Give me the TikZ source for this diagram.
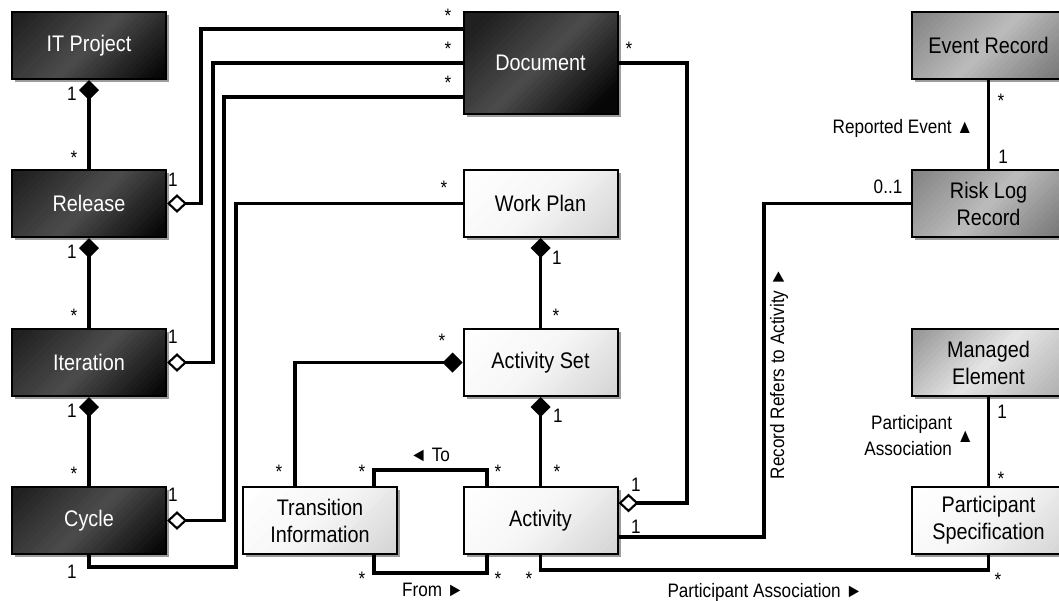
\documentclass[tikz,border=0pt]{standalone}
\usepackage{fontspec}
\setmainfont{Liberation Sans}[FakeStretch=0.88]
\usetikzlibrary{arrows.meta,shadows,calc}

\definecolor{darkA}{HTML}{202020}
\definecolor{darkB}{HTML}{4C4C4C}
\definecolor{darkC}{HTML}{060606}
\definecolor{greyA}{HTML}{868686}
\definecolor{greyB}{HTML}{BCBCBC}
\definecolor{greyC}{HTML}{787878}
\definecolor{lightA}{HTML}{9A9A9A}
\definecolor{lightB}{HTML}{E6E6E6}
\definecolor{lightC}{HTML}{B2B2B2}
\definecolor{paleA}{HTML}{FFFFFF}
\definecolor{paleB}{HTML}{F6F6F6}
\definecolor{paleC}{HTML}{D6D6D6}
\definecolor{shadowgrey}{HTML}{9C9C9C}

% diagonal three-colour gradient (top left -> middle -> bottom right),
% painted as thin slanted strips inside the box outline
\tikzset{
  grad/.style n args={3}{path picture={
    \coordinate (gO) at (path picture bounding box.center);
    \foreach \s in {-110,-105,...,105}{
      \pgfmathsetmacro\sc{\s+2.5}
      \pgfmathsetmacro\se{\s+5.5}
      \pgfmathsetmacro\pxa{\s/2-150}\pgfmathsetmacro\pya{-\s/2-150}
      \pgfmathsetmacro\pxb{\s/2+150}\pgfmathsetmacro\pyb{-\s/2+150}
      \pgfmathsetmacro\pxc{\se/2+150}\pgfmathsetmacro\pyc{-\se/2+150}
      \pgfmathsetmacro\pxd{\se/2-150}\pgfmathsetmacro\pyd{-\se/2-150}
      \pgfmathtruncatemacro\pa{max(0,min(100,(\sc+75)/75*100))}
      \pgfmathtruncatemacro\pb{max(0,min(100,\sc/75*100))}
      \ifdim\sc pt<0pt \colorlet{gc}{#2!\pa!#1}\else\colorlet{gc}{#3!\pb!#2}\fi
      \fill[gc] ($(gO)+(\pxa pt,\pya pt)$) -- ($(gO)+(\pxb pt,\pyb pt)$)
        -- ($(gO)+(\pxc pt,\pyc pt)$) -- ($(gO)+(\pxd pt,\pyd pt)$) -- cycle;
    }}}
}

\begin{document}
\begin{tikzpicture}[x=0.75pt,y=-0.75pt,
  box/.style={draw=black, line width=1.5pt,
    minimum width=154*0.75pt, minimum height=67*0.75pt,
    align=center, inner sep=2pt,
    font=\fontsize{16.9}{20.3}\selectfont,
    drop shadow={shadow xshift=2.5pt, shadow yshift=-2.5pt,
      fill=shadowgrey, opacity=1}},
  darkbox/.style={box, grad={darkA}{darkB}{darkC}, text=white},
  greybox/.style={box, grad={greyA}{greyB}{greyC}},
  lightbox/.style={box, grad={lightA}{lightB}{lightC}},
  whitebox/.style={box, grad={paleA}{paleB}{paleC}},
  conn/.style={line width=2.3pt},
  comp/.style={conn, {Diamond[length=15pt,width=15pt]}-},
  aggr/.style={conn,
    {Diamond[length=15pt,width=14pt,fill=white,line width=1.6pt]}-},
  lbl/.style={inner sep=0pt, font=\fontsize{14.6}{17.5}\selectfont},
  mult/.style={lbl}
]
\useasboundingbox (0,0) rectangle (1059,600);
\clip (0,0) rectangle (1059,600);

% ---- classes ----
\node[darkbox] (itproject) at (89,45.5) {IT Project};
\node[darkbox] (release) at (89,203.5) {Release};
\node[darkbox] (iteration) at (89,362.5) {Iteration};
\node[darkbox] (cycle) at (89,520.5) {Cycle};
\node[darkbox, minimum height=102*0.75pt] (document) at (540.5,63) {Document};
\node[whitebox] (workplan) at (540.5,203.5) {Work Plan};
\node[whitebox] (activityset) at (540.5,362.5) {Activity Set};
\node[whitebox] (activity) at (540.5,520.5) {Activity};
\node[whitebox] (transition) at (320,520.5) {Transition\\Information};
\node[greybox] (eventrec) at (988.5,45.5) {Event Record};
\node[greybox] (risklog) at (988.5,203.5) {Risk Log\\Record};
\node[lightbox] (managed) at (988.5,362.5) {Managed\\Element};
\node[whitebox] (pspec) at (988.5,520.5) {Participant\\Specification};

% ---- bend points ----
\coordinate (b1) at (201,29);
\coordinate (b2) at (213,63);
\coordinate (b3) at (224,97);
\coordinate (c5) at (236,567);
\coordinate (t1) at (295,362.5);
\coordinate (to1) at (374,470);
\coordinate (to2) at (487,470);
\coordinate (fr1) at (374,573);
\coordinate (fr2) at (487,573);
\coordinate (pa) at (0,570);
\coordinate (ad) at (687,503);
\coordinate (ar) at (764,537);

% ---- composition hierarchy ----
\draw[comp] (itproject.south) -- (release.north);
\draw[comp] (release.south) -- (iteration.north);
\draw[comp] (iteration.south) -- (cycle.north);
\draw[comp] (workplan.south) -- (activityset.north);
\draw[comp] (activityset.south) -- (activity.north);
\draw[comp] (activityset.west) -| (transition.north -| t1);

% ---- documents ----
\draw[aggr] (release.east) -| (b1) -- (document.west |- b1);
\draw[aggr] (iteration.east) -| (b2) -- (document.west |- b2);
\draw[aggr] (cycle.east) -| (b3) -- (document.west |- b3);
\draw[aggr] (activity.east |- ad) -- (ad) |- (document.east);

% ---- other associations ----
\draw[conn] (cycle.south) |- (c5) |- (workplan.west);
\draw[conn] (transition.north -| to1) -- (to1) -- (to2) -- (activity.north -| to2);
\draw[conn] (transition.south -| fr1) -- (fr1) -- (fr2) -- (activity.south -| fr2);
\draw[conn] (activity.south) |- (pspec.south |- pa) -- (pspec.south);
\draw[conn] (activity.east |- ar) -- (ar) |- (risklog.west);
\draw[conn] (eventrec.south) -- (risklog.north);
\draw[conn] (managed.south) -- (pspec.north);

% ---- multiplicities ----
\node[mult] (m1) at (72,94) {1};
\node[mult] (m2) at (74,158) {*};
\node[mult] (m3) at (72,252) {1};
\node[mult] (m4) at (74,316) {*};
\node[mult] (m5) at (72,411) {1};
\node[mult] (m6) at (74,474) {*};
\node[mult] (m7) at (173,180) {1};
\node[mult] (m8) at (173,337) {1};
\node[mult] (m9) at (173,495) {1};
\node[mult] (m10) at (448,16) {*};
\node[mult] (m11) at (448,49) {*};
\node[mult] (m12) at (448,83) {*};
\node[mult] (m13) at (72,572) {1};
\node[mult] (m14) at (444,188) {*};
\node[mult] (m15) at (557,258) {1};
\node[mult] (m16) at (556,316) {*};
\node[mult] (m17) at (558,416) {1};
\node[mult] (m18) at (557,472) {*};
\node[mult] (m19) at (442,341) {*};
\node[mult] (m20) at (279,472) {*};
\node[mult] (m21) at (362,472) {*};
\node[mult] (m22) at (498,472) {*};
\node[mult] (m23) at (362,579) {*};
\node[mult] (m24) at (498,579) {*};
\node[mult] (m25) at (529,579) {*};
\node[mult] (m26) at (998,580) {*};
\node[mult] (m27) at (636,485) {1};
\node[mult] (m28) at (629,49) {*};
\node[mult] (m29) at (636,527) {1};
\node[mult] (m30) at (888,187) {0..1};
\node[mult] (m31) at (1001,101) {*};
\node[mult] (m32) at (1003,157) {1};
\node[mult] (m33) at (1002,412) {1};
\node[mult] (m34) at (1001,479) {*};

% ---- association names ----
\node[lbl] (lto) at (430,455) {◄ To};
\node[lbl] (lfrom) at (433,590) {From ►};
\node[lbl] (lpart) at (765,592) {Participant Association ►};
\node[lbl, rotate=90] (lrec) at (779,374) {Record Refers to Activity ►};
\node[lbl] (lrep) at (903,128) {Reported Event ▲};
\node[lbl, anchor=east] (lpa) at (974,438)
  {\begin{tabular}{@{}r@{}}Participant\\[2pt]Association\end{tabular}\ ▲};
\end{tikzpicture}
\end{document}
